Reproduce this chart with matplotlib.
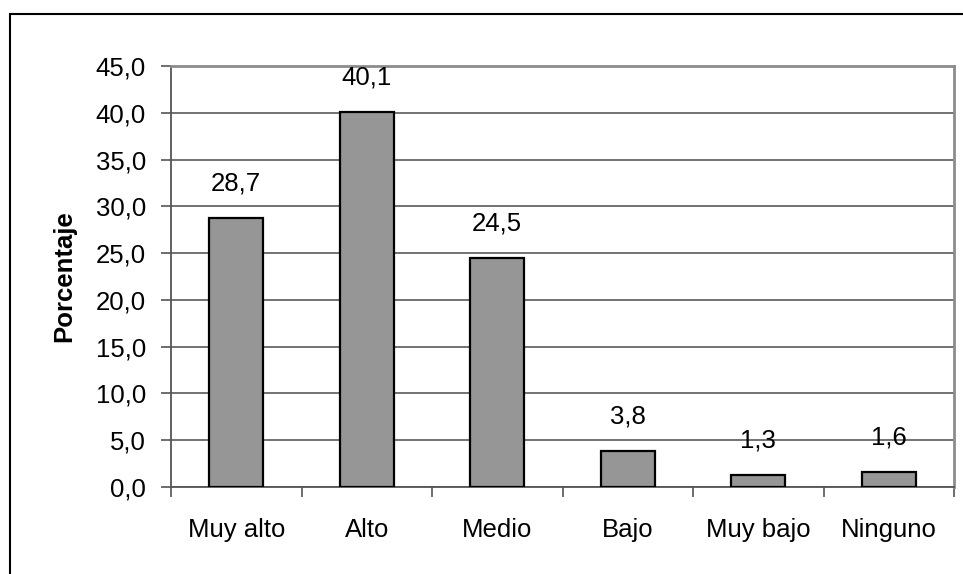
import matplotlib.pyplot as plt
from matplotlib.patches import Rectangle

plt.rcParams['font.family'] = ['Liberation Sans', 'DejaVu Sans']

categorias = ['Muy alto', 'Alto', 'Medio', 'Bajo', 'Muy bajo', 'Ninguno']
porcentajes = [28.7, 40.1, 24.5, 3.8, 1.3, 1.6]
yticks = [0, 5, 10, 15, 20, 25, 30, 35, 40, 45]

fs = 18.5

fig = plt.figure(figsize=(9.63, 5.74), dpi=100)
W, H = 963, 574

# marco exterior del grafico (se corta a la derecha y abajo)
fig.patches.append(Rectangle((10 / W, -0.1), 1.2, 1 - 14 / H + 0.1,
                             transform=fig.transFigure, fill=False,
                             edgecolor='black', linewidth=1.5))

ax = fig.add_axes([171 / W, 1 - 487 / H, (954 - 171) / W, (487 - 66) / H])

x = range(len(categorias))
ax.bar(x, porcentajes, width=0.41, color='#969696', edgecolor='black',
       linewidth=1.6, zorder=3)

for xi, v in zip(x, porcentajes):
    ax.annotate(f'{v:.1f}'.replace('.', ','), (xi, v), xytext=(0, 25),
                textcoords='offset points', ha='center', va='center',
                fontsize=fs, zorder=4)

ax.set_xlim(-0.5, len(categorias) - 0.5)
ax.set_ylim(0, 45)
ax.set_yticks(yticks)
ax.set_yticklabels([f'{t:.1f}'.replace('.', ',') for t in yticks], fontsize=fs)
ax.set_xticks(x)
ax.set_xticklabels(categorias, fontsize=fs)
ax.set_xticks([i - 0.5 for i in range(len(categorias) + 1)], minor=True)

ax.tick_params(axis='x', which='major', length=0, pad=22)
ax.tick_params(axis='x', which='minor', length=7, width=1.2, color='#555555',
               direction='out')
ax.tick_params(axis='y', length=7, width=1.2, color='#555555', pad=11)

ax.grid(axis='y', color='#5a5a5a', linewidth=1.2, zorder=0)
ax.set_axisbelow(True)

for side in ['top', 'right']:
    ax.spines[side].set_color('#8c8c8c')
    ax.spines[side].set_linewidth(2)
for side in ['left', 'bottom']:
    ax.spines[side].set_color('#555555')
    ax.spines[side].set_linewidth(1.3)

ax.set_ylabel('Porcentaje', fontsize=fs, fontweight='bold', labelpad=14)

fig.savefig('out.png', dpi=100)
